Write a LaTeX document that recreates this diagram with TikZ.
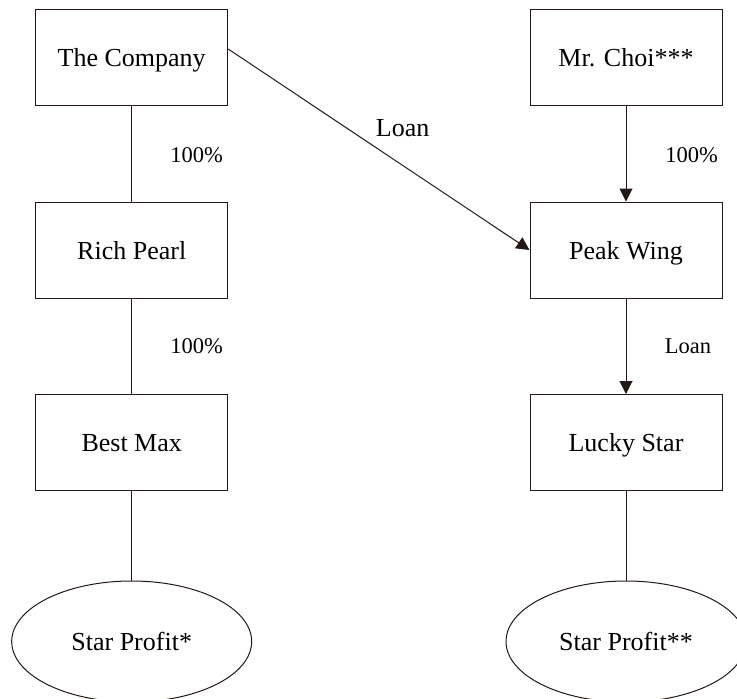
\documentclass[tikz,border=0pt]{standalone}
\usepackage{fontspec}
\setmainfont{Liberation Serif}
\usetikzlibrary{arrows.meta,shapes.geometric}
\definecolor{ink}{HTML}{231815}
\begin{document}
\begin{tikzpicture}[x=1pt,y=-1pt,
  box/.style={draw=ink,line width=1pt,minimum width=192pt,minimum height=96pt,inner sep=0pt,text height=18pt,text depth=0pt,font=\fontsize{26}{30}\selectfont},
  oval/.style={draw=ink,line width=1pt,ellipse,minimum width=240pt,minimum height=121pt,inner sep=0pt,text height=18pt,text depth=0pt,font=\fontsize{26}{30}\selectfont},
  conn/.style={draw=ink,line width=1pt},
  arr/.style={conn,-{Triangle[length=13pt,width=13pt]}},
  lbl/.style={font=\fontsize{22.5}{26}\selectfont,inner sep=0pt,text height=15pt,text depth=0pt},
  lblbig/.style={font=\fontsize{26}{30}\selectfont,inner sep=0pt,text height=18pt,text depth=0pt}]
\useasboundingbox (0,0) rectangle (737,699);
\node[box] (tc) at (131.7,57) {The Company};
\node[box] (rp) at (131.7,250) {Rich Pearl};
\node[box] (bm) at (131.7,442.5) {Best Max};
\node[oval] (sp1) at (131.7,641.5) {Star Profit*};
\node[box] (mc) at (626,57) {Mr. Choi***};
\node[box] (pw) at (626,250) {Peak Wing};
\node[box] (ls) at (626,442.5) {Lucky Star};
\node[oval] (sp2) at (626,641.5) {Star Profit**};
\draw[conn] (tc) -- (rp);
\draw[conn] (rp) -- (bm);
\draw[conn] (bm) -- (sp1);
\draw[arr] (mc) -- (pw);
\draw[arr] (pw) -- (ls);
\draw[conn] (ls) -- (sp2);
\draw[arr] ([yshift=8pt]tc.east) -- (pw.west);
\node[lbl] (l1) at (196.5,155) {100\%};
\node[lbl] (l2) at (196.5,346) {100\%};
\node[lbl] (l3) at (691.7,155) {100\%};
\node[lbl] (l4) at (688,346) {Loan};
\node[lblbig] (l5) at (402.7,127) {Loan};
\end{tikzpicture}
\end{document}
